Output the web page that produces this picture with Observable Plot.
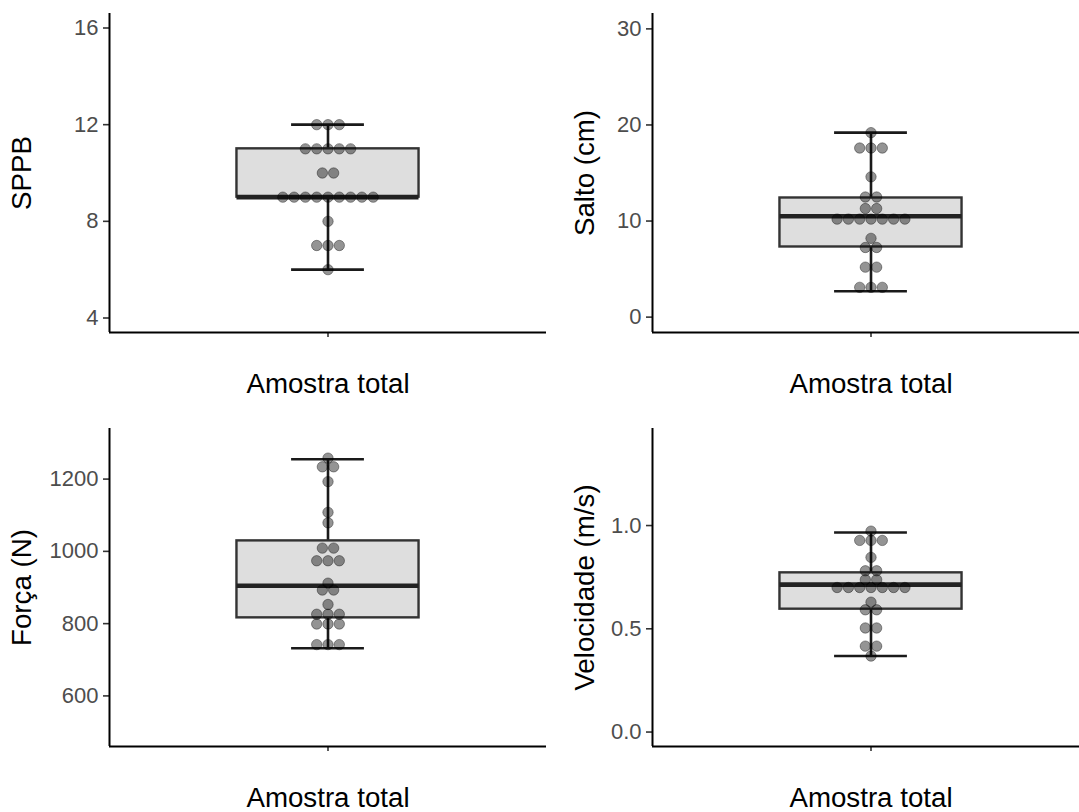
<!DOCTYPE html>
<html>
<head>
<meta charset="utf-8">
<script src="https://cdn.jsdelivr.net/npm/d3@7"></script>
<script src="https://cdn.jsdelivr.net/npm/@observablehq/plot@0.6"></script>
<style>
  html, body { margin: 0; padding: 0; background: #ffffff; overflow: hidden; }
  #wrap { position: relative; width: 1079px; height: 812px; overflow: hidden; background: #fff; }
  .cell { position: absolute; width: 549px; height: 406px; }
  .cell svg { max-width: none !important; }
</style>
</head>
<body>
<div id="wrap"></div>
<script>
// ---- data ----
const categories = ["Amostra total"];

const sppbValues = [12, 12, 12, 11, 11, 11, 11, 11, 10, 10,
  9, 9, 9, 9, 9, 9, 9, 9, 9, 8, 7, 7, 7, 6];
const sppbStats = [{ min: 6, q1: 9, median: 9, q3: 11, max: 12 }];

const saltoValues = [19.2, 17.6, 17.6, 17.6, 14.6, 12.5, 12.5, 11.3, 11.3,
  10.2, 10.2, 10.2, 10.2, 10.2, 10.2, 10.2, 8.2, 7.25, 7.25, 5.2, 5.2, 3.1, 3.1, 3.1];
const saltoStats = [{ min: 2.7, q1: 7.3, median: 10.5, q3: 12.4, max: 19.2 }];

const forcaValues = [1258, 1234, 1234, 1193, 1108, 1079, 1009, 1009, 974, 974, 974,
  912, 893, 893, 853, 826, 826, 826, 799, 799, 799, 742, 742, 742];
const forcaStats = [{ min: 732, q1: 816, median: 905, q3: 1029, max: 1255 }];

const velValues = [0.973, 0.928, 0.928, 0.928, 0.846, 0.781, 0.781, 0.738, 0.738,
  0.70, 0.70, 0.70, 0.70, 0.70, 0.70, 0.70, 0.629, 0.592, 0.592, 0.504, 0.504,
  0.416, 0.416, 0.368];
const velStats = [{ min: 0.368, q1: 0.595, median: 0.714, q3: 0.771, max: 0.966 }];

const titles = ["SPPB", "Salto (cm)", "Força (N)", "Velocidade (m/s)"];
const yTicks = [[4, 8, 12, 16], [0, 10, 20, 30], [600, 800, 1000, 1200], [0, 0.5, 1.0]];
const yDomains = [[3.4, 16.6], [-1.6, 31.6], [460, 1340], [-0.07, 1.47]];
const tickFormats = [d3.format("d"), d3.format("d"), d3.format("d"), d3.format(".1f")];

// ---- layout ----
const xDomain = [0.4, 1.6];
const unitPx = 437 / 1.2;         // pixels per x unit
const dotStep = 11.3 / unitPx;    // horizontal stacking step
const FONT = "'Liberation Sans', Arial, Helvetica, sans-serif";

function stackDots(values, pos) {
  const groups = d3.group(values, v => v);
  const out = [];
  for (const [v, arr] of groups) {
    const n = arr.length;
    arr.forEach((_, k) => out.push({ x: pos + (k - (n - 1) / 2) * dotStep, y: v }));
  }
  return out;
}

const panels = [
  { values: sppbValues, stats: sppbStats, left: 0, top: 0, mt: 13, mb: 74, tdx: -79 },
  { values: saltoValues, stats: saltoStats, left: 543, top: 0, mt: 13, mb: 74, tdx: -59 },
  { values: forcaValues, stats: forcaStats, left: 0, top: 406, mt: 22, mb: 66, tdx: -79 },
  { values: velValues, stats: velStats, left: 543, top: 406, mt: 22, mb: 66, tdx: -59 }
];

const wrap = document.getElementById("wrap");

panels.forEach((p, i) => {
  const stats = p.stats.map((s, j) => ({ ...s, pos: j + 1 }));
  const dots = stackDots(p.values, 1);
  const yd = yDomains[i];
  const chart = Plot.plot({
    width: 549,
    height: 406,
    marginLeft: 109,
    marginRight: 3,
    marginTop: p.mt,
    marginBottom: p.mb,
    style: { fontFamily: FONT, background: "transparent", overflow: "visible" },
    x: { domain: xDomain, axis: null },
    y: { domain: yd, axis: null },
    marks: [
      Plot.axisY({
        ticks: yTicks[i], tickFormat: tickFormats[i], tickSize: 6, tickPadding: 5,
        fontSize: 22, stroke: "#333333", fill: "#4d4d4d", strokeWidth: 1.6, label: null
      }),
      Plot.axisX({
        ticks: [1], tickFormat: d => categories[d - 1], tickSize: 5, tickPadding: 36,
        fontSize: 27.7, stroke: "#333333", fill: "#000000", strokeWidth: 1.6, label: null
      }),
      Plot.ruleY([yd[0]], { stroke: "#000", strokeWidth: 2 }),
      Plot.ruleX([xDomain[0]], { stroke: "#000", strokeWidth: 2 }),
      // errorbar
      Plot.ruleX(stats, { x: "pos", y1: "min", y2: "max", stroke: "#1a1a1a", strokeWidth: 2.6 }),
      Plot.ruleY(stats, { y: "min", x1: d => d.pos - 0.1, x2: d => d.pos + 0.1, stroke: "#1a1a1a", strokeWidth: 2.6 }),
      Plot.ruleY(stats, { y: "max", x1: d => d.pos - 0.1, x2: d => d.pos + 0.1, stroke: "#1a1a1a", strokeWidth: 2.6 }),
      // box
      Plot.rect(stats, { x1: d => d.pos - 0.25, x2: d => d.pos + 0.25, y1: "q1", y2: "q3",
        fill: "#dedede", stroke: "#333333", strokeWidth: 2.4 }),
      Plot.ruleY(stats, { y: "median", x1: d => d.pos - 0.25, x2: d => d.pos + 0.25,
        stroke: "#222222", strokeWidth: 4.6 }),
      // dots
      Plot.dot(dots, { x: "x", y: "y", r: 5.2, fill: "#000", fillOpacity: 0.42,
        stroke: "#000", strokeOpacity: 0.42, strokeWidth: 0.9 }),
      // y title
      Plot.text([titles[i]], { text: d => d, frameAnchor: "left", rotate: -90, dx: p.tdx,
        lineAnchor: "bottom", textAnchor: "middle", fontSize: 27.7, fill: "#000" })
    ]
  });
  const cell = document.createElement("div");
  cell.className = "cell";
  cell.style.left = p.left + "px";
  cell.style.top = p.top + "px";
  cell.appendChild(chart);
  wrap.appendChild(cell);
});
</script>
</body>
</html>
